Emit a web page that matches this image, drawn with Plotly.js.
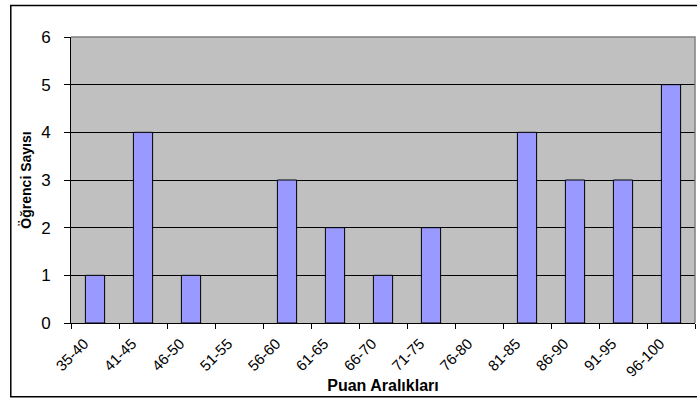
<!DOCTYPE html>
<html>
<head>
<meta charset="utf-8">
<script src="https://cdn.plot.ly/plotly-3.0.1.min.js"></script>
<style>
html,body{margin:0;padding:0;background:#fff;}
#chart{width:697px;height:398px;}
</style>
</head>
<body>
<div id="chart"></div>
<script>
const categories = ["35-40","41-45","46-50","51-55","56-60","61-65","66-70","71-75","76-80","81-85","86-90","91-95","96-100"];
const counts = [1, 4, 1, null, 3, 2, 1, 2, null, 4, 3, 3, 5];
const yTicks = [0, 1, 2, 3, 4, 5, 6];

const FONT = "Liberation Sans, Arial, sans-serif";

const trace = {
  type: "bar",
  x: categories,
  y: counts,
  width: 0.4,
  marker: {color: "#9999FF", line: {color: "#000000", width: 1}},
  hoverinfo: "x+y"
};

const layout = {
  width: 697,
  height: 398,
  margin: {l: 71, r: 2, t: 37, b: 75, pad: 0},
  paper_bgcolor: "#ffffff",
  plot_bgcolor: "#C0C0C0",
  showlegend: false,
  bargap: 0.6,
  font: {family: FONT, color: "#000000"},
  xaxis: {
    type: "category",
    categoryorder: "array",
    categoryarray: categories,
    range: [-0.5, categories.length - 0.5],
    showline: true, linecolor: "#000000", linewidth: 1,
    ticks: "outside", ticklen: 5, tickcolor: "#000000", tickwidth: 1,
    tickson: "boundaries",
    tickangle: -45,
    ticklabelstandoff: 5,
    ticklabelshift: -11,
    tickfont: {family: FONT, size: 15, color: "#000000"},
    showgrid: false,
    title: {text: "<b>Puan Aralıkları</b>", font: {family: FONT, size: 16, color: "#000000"}, standoff: 0}
  },
  yaxis: {
    range: [0, 6],
    tickvals: yTicks,
    showline: true, linecolor: "#000000", linewidth: 1,
    ticks: "outside", ticklen: 6, tickcolor: "#000000", tickwidth: 1,
    ticklabelstandoff: 10,
    tickfont: {family: FONT, size: 17, color: "#000000"},
    showgrid: true, gridcolor: "#000000", gridwidth: 1,
    zeroline: false,
    title: {text: "<b>Öğrenci Sayısı</b>", font: {family: FONT, size: 14, color: "#000000"}, standoff: 6}
  },
  shapes: [
    {type: "path", xref: "paper", yref: "paper", layer: "above",
     path: "M 0,1 L 1,1 L 1,0", line: {color: "#808080", width: 1.5}},
    {type: "rect", xref: "paper", yref: "paper", layer: "above",
     x0: -0.0965, x1: 1.01, y0: -0.2575, y1: 1.110,
     line: {color: "#000000", width: 1.5}}
  ]
};

Plotly.newPlot("chart", [trace], layout, {staticPlot: true, displayModeBar: false});
</script>
</body>
</html>
